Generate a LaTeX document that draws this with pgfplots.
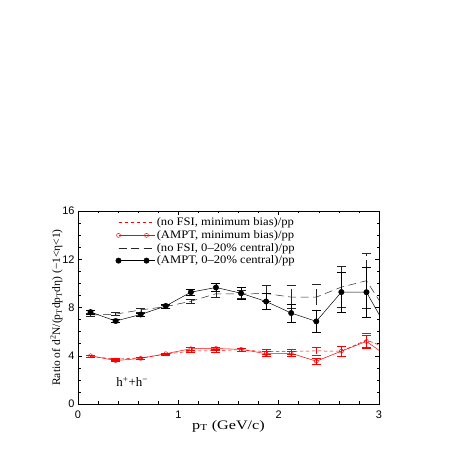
\documentclass[border=0pt]{standalone}
\usepackage{pgfplots}
\pgfplotsset{compat=1.18}
\usepackage{fontspec}
\setmainfont{Liberation Serif}
\newfontfamily\ticksf{Liberation Sans}
\newfontfamily\legserif[FakeStretch=1.1,Ligatures=TeX]{Liberation Serif}
\newfontfamily\xlabserif[FakeStretch=1.25,Ligatures=TeX]{Liberation Serif}

\pgfplotsset{
  twomark legend/.style={legend image code/.code={\path (0bp,0bp) -- (36bp,0bp);\draw[mark repeat=2,mark phase=1,##1] plot coordinates {(0bp,0bp) (14bp,0bp) (28bp,0bp)};}},
  shortline legend/.style={legend image code/.code={\path (0bp,0bp) -- (36bp,0bp);\draw[##1] (0bp,0bp) -- (28bp,0bp);}},
}

\pgfplotstableread{
x y e
0.125 7.62 0.15
0.375 6.88 0.12
0.625 7.42 0.12
0.875 8.13 0.15
1.125 9.27 0.25
1.375 9.66 0.35
1.625 9.18 0.50
1.875 8.50 0.65
2.125 7.54 0.75
2.375 6.85 0.90
2.625 9.28 1.65
2.875 9.27 2.10
3.125 5.60 0.00
}\amptcent

\pgfplotstableread{
x y e
0.125 7.38 0.12
0.375 7.45 0.12
0.625 7.80 0.15
0.875 8.07 0.15
1.125 8.52 0.20
1.375 9.14 0.25
1.625 9.12 0.35
1.875 9.16 0.65
2.125 8.86 0.95
2.375 8.86 1.10
2.625 9.69 1.70
2.875 10.22 2.30
3.125 7.00 0.00
}\nofsicent

\pgfplotstableread{
x y e
0.125 4.00 0.08
0.375 3.60 0.08
0.625 3.78 0.08
0.875 4.17 0.08
1.125 4.58 0.10
1.375 4.60 0.12
1.625 4.53 0.12
1.875 4.17 0.20
2.125 4.20 0.20
2.375 3.55 0.25
2.625 4.38 0.42
2.875 5.19 0.55
3.125 3.70 0.00
}\amptmb

\pgfplotstableread{
x y e
0.125 3.95 0.08
0.375 3.72 0.08
0.625 3.82 0.08
0.875 4.14 0.08
1.125 4.38 0.10
1.375 4.43 0.12
1.625 4.50 0.12
1.875 4.33 0.20
2.125 4.36 0.22
2.375 4.40 0.35
2.625 4.38 0.40
2.875 5.30 0.60
3.125 4.50 0.00
}\nofsimb

\begin{document}
\begin{tikzpicture}
\useasboundingbox (-78bp,-53bp) rectangle (379bp,404bp);
\begin{axis}[
  at={(0,0)}, anchor=south west,
  scale only axis,
  width=301bp, height=193bp,
  xmin=0, xmax=3, ymin=0, ymax=16,
  xtick={0,1,2,3}, ytick={0,4,8,12,16},
  minor x tick num=4, minor y tick num=3,
  tick align=inside,
  major tick length=4bp, minor tick length=2.5bp,
  /pgf/number format/assume math mode=true,
  tick label style={font=\ticksf\fontsize{11}{11}\selectfont},
  xticklabel style={yshift=-3bp},
  axis line style={line width=0.6pt},
  every tick/.style={line width=0.5pt, black},
  xlabel={p\textsubscript{T} (GeV/c)},
  xlabel style={font=\xlabserif\fontsize{13}{13}\selectfont, yshift=5bp},
  ylabel={Ratio of d\textsuperscript{2}N/(p\textsubscript{T}dp\textsubscript{T}dη) (−1<η<1)},
  ylabel style={font=\fontsize{11.5}{11.5}\selectfont, yshift=-7bp},
  legend style={at={(0.125,0.975)}, anchor=north west, draw=none, fill=none,
    font=\legserif\fontsize{11.5}{11.5}\selectfont, inner sep=0pt, row sep=-0.8bp,
    cells={anchor=west}},
  error bars/y dir=both, error bars/y explicit,
  error bars/error mark=|,
  error bars/error mark options={mark size=4.5bp, solid},
]
\addplot[red, line width=0.5pt, dash pattern=on 3.5bp off 2.5bp, shortline legend]
  table[x=x, y=y, y error=e] {\nofsimb};
\addlegendentry{(no FSI, minimum bias)/pp}
\addplot[red, line width=0.5pt, mark=o, mark size=2bp, mark options={solid}, twomark legend]
  table[x=x, y=y, y error=e] {\amptmb};
\addlegendentry{(AMPT, minimum bias)/pp}
\addplot[black!85, line width=0.5pt, dash pattern=on 8bp off 4.5bp, shortline legend]
  table[x=x, y=y, y error=e] {\nofsicent};
\addlegendentry{(no FSI, 0–20\% central)/pp}
\addplot[black, line width=0.5pt, mark=*, mark size=2.7bp, mark options={solid}, twomark legend]
  table[x=x, y=y, y error=e] {\amptcent};
\addlegendentry{(AMPT, 0–20\% central)/pp}
\node[font=\fontsize{13}{13}\selectfont] at (axis cs:0.54,1.85) {h\textsuperscript{+}+h\textsuperscript{−}};
\end{axis}
\end{tikzpicture}
\end{document}
